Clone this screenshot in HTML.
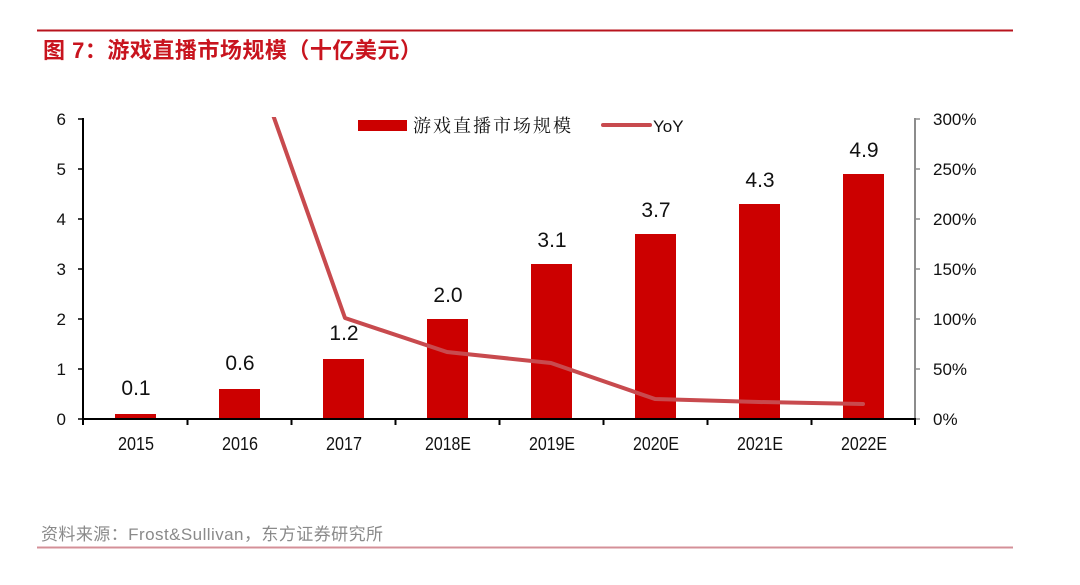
<!DOCTYPE html>
<html>
<head>
<meta charset="utf-8">
<style>
  html, body { margin: 0; padding: 0; background: #ffffff; }
  body { width: 1080px; height: 585px; overflow: hidden; position: relative; }
  svg { display: block; }
</style>
</head>
<body>
<svg width="1080" height="585" viewBox="0 0 1080 585" xmlns="http://www.w3.org/2000/svg">
  <rect x="0" y="0" width="1080" height="585" fill="#ffffff"/>
  <!-- top rule -->
  <line x1="37" y1="30.5" x2="1013" y2="30.5" stroke="#b8141e" stroke-width="2"/>
  <!-- title -->
  <text x="43" y="58" font-family="'Liberation Sans','Noto Sans CJK SC',sans-serif" font-size="22" font-weight="bold" fill="#c8141e" letter-spacing="0.5">图 7：游戏直播市场规模（十亿美元）</text>

  <!-- bars -->
  <g fill="#cc0000">
    <rect x="115" y="414" width="41" height="5"/>
    <rect x="219" y="389" width="41" height="30"/>
    <rect x="323" y="359" width="41" height="60"/>
    <rect x="427" y="319" width="41" height="100"/>
    <rect x="531" y="264" width="41" height="155"/>
    <rect x="635" y="234" width="41" height="185"/>
    <rect x="739" y="204" width="41" height="215"/>
    <rect x="843" y="174" width="41" height="245"/>
  </g>

  <!-- data labels -->
  <g font-family="'Liberation Sans',sans-serif" font-size="21" fill="#111" text-anchor="middle">
    <text x="136" y="395">0.1</text>
    <text x="240" y="370">0.6</text>
    <text x="344" y="340">1.2</text>
    <text x="448" y="302">2.0</text>
    <text x="552" y="247">3.1</text>
    <text x="656" y="217">3.7</text>
    <text x="760" y="187">4.3</text>
    <text x="864" y="157">4.9</text>
  </g>

  <!-- YoY line (clipped to plot area) -->
  <defs>
    <clipPath id="plot">
      <rect x="83" y="117" width="832" height="310"/>
    </clipPath>
  </defs>
  <polyline clip-path="url(#plot)" fill="none" stroke="#c84a4e" stroke-width="4" stroke-linejoin="round" stroke-linecap="round"
    points="239,19 345,318 447,352 551,363 655,399 759,402 863,404"/>

  <!-- left axis -->
  <line x1="83" y1="118" x2="83" y2="420" stroke="#000" stroke-width="2"/>
  <g stroke="#000" stroke-width="1.5">
    <line x1="78" y1="119" x2="83" y2="119"/>
    <line x1="78" y1="169" x2="83" y2="169"/>
    <line x1="78" y1="219" x2="83" y2="219"/>
    <line x1="78" y1="269" x2="83" y2="269"/>
    <line x1="78" y1="319" x2="83" y2="319"/>
    <line x1="78" y1="369" x2="83" y2="369"/>
    <line x1="78" y1="419" x2="83" y2="419"/>
  </g>
  <g font-family="'Liberation Sans',sans-serif" font-size="17" fill="#111" text-anchor="end">
    <text x="66" y="125">6</text>
    <text x="66" y="175">5</text>
    <text x="66" y="225">4</text>
    <text x="66" y="275">3</text>
    <text x="66" y="325">2</text>
    <text x="66" y="375">1</text>
    <text x="66" y="425">0</text>
  </g>

  <!-- right axis -->
  <line x1="915" y1="118" x2="915" y2="420" stroke="#8c8c8c" stroke-width="2"/>
  <g stroke="#8c8c8c" stroke-width="1.5">
    <line x1="915" y1="119" x2="920" y2="119"/>
    <line x1="915" y1="169" x2="920" y2="169"/>
    <line x1="915" y1="219" x2="920" y2="219"/>
    <line x1="915" y1="269" x2="920" y2="269"/>
    <line x1="915" y1="319" x2="920" y2="319"/>
    <line x1="915" y1="369" x2="920" y2="369"/>
    <line x1="915" y1="419" x2="920" y2="419"/>
  </g>
  <g font-family="'Liberation Sans',sans-serif" font-size="17" fill="#111">
    <text x="933" y="125">300%</text>
    <text x="933" y="175">250%</text>
    <text x="933" y="225">200%</text>
    <text x="933" y="275">150%</text>
    <text x="933" y="325">100%</text>
    <text x="933" y="375">50%</text>
    <text x="933" y="425">0%</text>
  </g>

  <!-- x axis -->
  <line x1="82" y1="419" x2="916" y2="419" stroke="#000" stroke-width="2"/>
  <g stroke="#000" stroke-width="2">
    <line x1="83" y1="419" x2="83" y2="425"/>
    <line x1="187.5" y1="419" x2="187.5" y2="425"/>
    <line x1="291.5" y1="419" x2="291.5" y2="425"/>
    <line x1="395.5" y1="419" x2="395.5" y2="425"/>
    <line x1="499.5" y1="419" x2="499.5" y2="425"/>
    <line x1="603.5" y1="419" x2="603.5" y2="425"/>
    <line x1="707.5" y1="419" x2="707.5" y2="425"/>
    <line x1="811.5" y1="419" x2="811.5" y2="425"/>
    <line x1="915" y1="419" x2="915" y2="425"/>
  </g>
  <g font-family="'Liberation Sans',sans-serif" font-size="18" fill="#111" text-anchor="middle">
    <text x="136" y="450" textLength="36" lengthAdjust="spacingAndGlyphs">2015</text>
    <text x="240" y="450" textLength="36" lengthAdjust="spacingAndGlyphs">2016</text>
    <text x="344" y="450" textLength="36" lengthAdjust="spacingAndGlyphs">2017</text>
    <text x="448" y="450" textLength="46" lengthAdjust="spacingAndGlyphs">2018E</text>
    <text x="552" y="450" textLength="46" lengthAdjust="spacingAndGlyphs">2019E</text>
    <text x="656" y="450" textLength="46" lengthAdjust="spacingAndGlyphs">2020E</text>
    <text x="760" y="450" textLength="46" lengthAdjust="spacingAndGlyphs">2021E</text>
    <text x="864" y="450" textLength="46" lengthAdjust="spacingAndGlyphs">2022E</text>
  </g>

  <!-- legend -->
  <rect x="358" y="120" width="49" height="11" fill="#cc0000"/>
  <text x="413" y="132" font-family="'Liberation Serif','Noto Serif CJK SC',serif" font-size="18" fill="#111" letter-spacing="2">游戏直播市场规模</text>
  <line x1="603" y1="125" x2="650" y2="125" stroke="#c84a4e" stroke-width="4" stroke-linecap="round"/>
  <text x="653" y="132" font-family="'Liberation Sans',sans-serif" font-size="17" fill="#111">YoY</text>

  <!-- source -->
  <text x="41" y="540" font-family="'Liberation Sans','Noto Sans CJK SC',sans-serif" font-size="17" fill="#8a8a8a" textLength="342" lengthAdjust="spacing">资料来源：Frost&amp;Sullivan，东方证券研究所</text>
  <line x1="37" y1="547.5" x2="1013" y2="547.5" stroke="#d49098" stroke-width="2"/>
</svg>
</body>
</html>
